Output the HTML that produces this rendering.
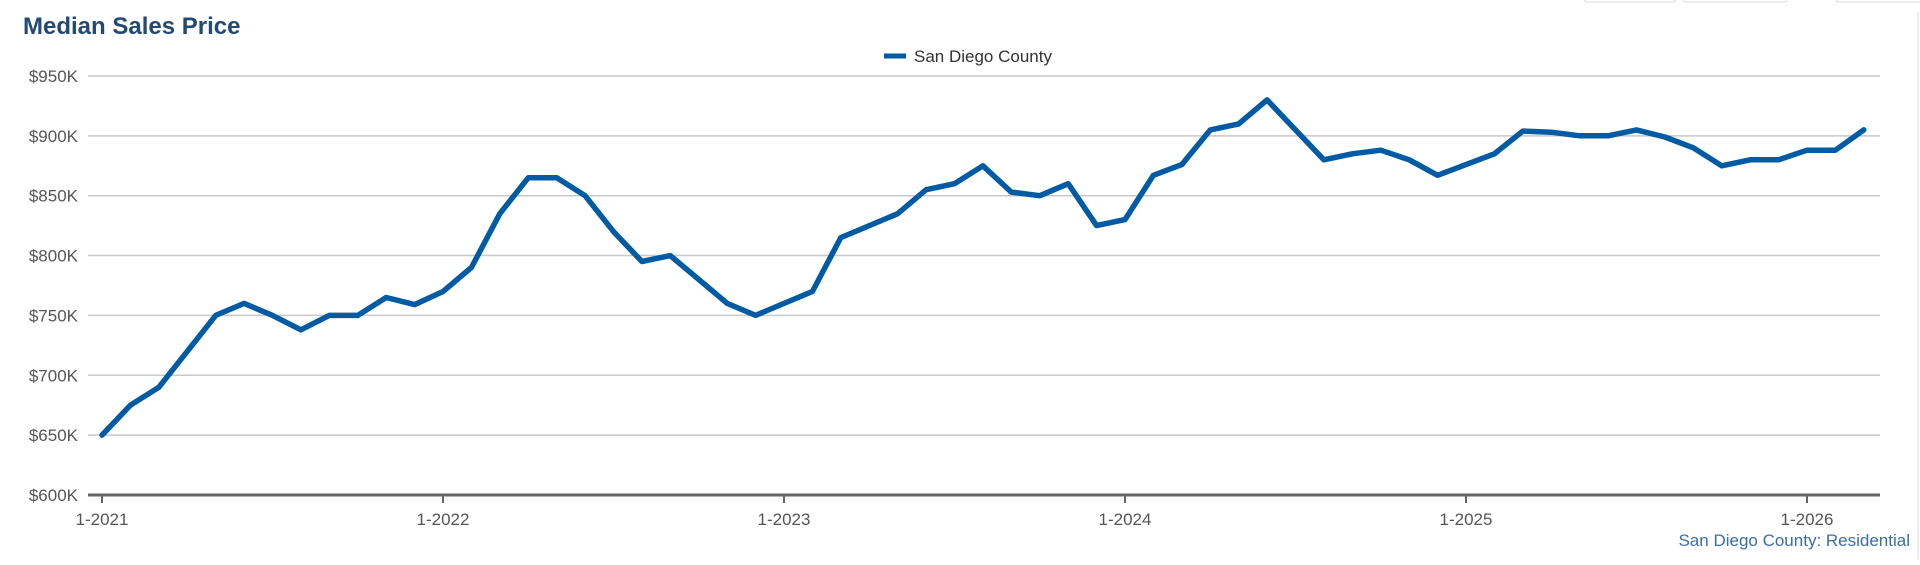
<!DOCTYPE html>
<html><head><meta charset="utf-8"><style>
body{margin:0;background:#fff;width:1920px;height:560px;overflow:hidden;font-family:"Liberation Sans",sans-serif}
</style></head><body>
<svg id="s" width="1920" height="560" xmlns="http://www.w3.org/2000/svg" font-family="Liberation Sans, sans-serif">
<text x="23" y="34" font-size="24" font-weight="bold" fill="#234a73">Median Sales Price</text>
<rect x="1584" y="-10" width="92" height="12" rx="3" fill="none" stroke="#ddd"/>
<rect x="1683" y="-10" width="104" height="12" rx="3" fill="none" stroke="#ddd"/>
<rect x="1836" y="-10" width="100" height="12" rx="3" fill="none" stroke="#ddd"/>
<line x1="1918" y1="12" x2="1918" y2="560" stroke="#eee" stroke-width="2"/>
<line x1="884" y1="56" x2="906" y2="56" stroke="#005ba4" stroke-width="5"/>
<text x="914" y="62" font-size="17" fill="#333">San Diego County</text>
<g id="grid"></g>
<polyline id="ln" fill="none" stroke="#005ba4" stroke-width="5.5" stroke-linejoin="round" stroke-linecap="round"/>
<text x="1910" y="546" font-size="17" fill="#3a6ea5" text-anchor="end">San Diego County: Residential</text>
</svg>
<script>
var d=[650,675,690,720,750,760,750,738,750,750,765,759,770,790,835,865,865,850,820,795,800,780,760,750,760,770,815,825,835,855,860,875,853,850,860,825,830,867,876,905,910,930,905,880,885,888,880,867,876,885,904,903,900,900,905,899,890,875,880,880,888,888,905];
var y0=495,st=59.86/50;function Y(v){return y0-(v-600)*st}
function X(i){return 102+i*341/12}
var g=document.getElementById('grid'),h='';
for(var v=600;v<=950;v+=50){var y=Y(v);
if(v>600)h+='<line x1="88" y1="'+y+'" x2="1880" y2="'+y+'" stroke="#c8c8c8" stroke-width="1.5"/>';
h+='<text x="78" y="'+(y+6)+'" font-size="17" fill="#555" text-anchor="end">$'+v+'K</text>';}
h+='<line x1="88" y1="495" x2="1880" y2="495" stroke="#666" stroke-width="3"/>';
for(var k=0;k<6;k++){var x=102+k*341;h+='<line x1="'+x+'" y1="495" x2="'+x+'" y2="503" stroke="#666" stroke-width="2"/><text x="'+x+'" y="525" font-size="17" fill="#555" text-anchor="middle">1-'+(2021+k)+'</text>';}
g.innerHTML=h;
document.getElementById('ln').setAttribute('points',d.map(function(v,i){return X(i).toFixed(1)+','+Y(v).toFixed(1)}).join(' '));
</script>
</body></html>
